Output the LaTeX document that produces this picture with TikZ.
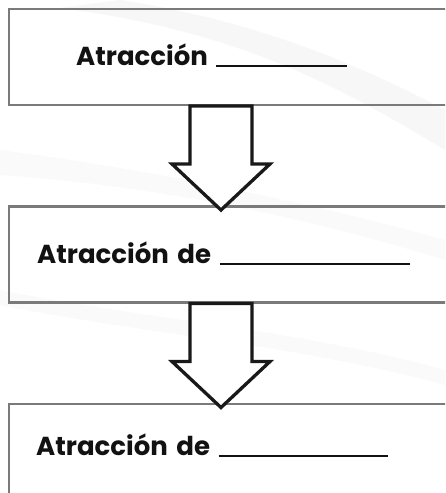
\documentclass[tikz,border=0pt]{standalone}
\usepackage{fontspec}
\setmainfont{Poppins}
\usetikzlibrary{positioning,calc}
\newcommand{\linea}[1]{\hspace{3pt}\rule[-2pt]{#1}{2.5pt}}
\begin{document}
\begin{tikzpicture}[x=1pt, y=-1pt, node distance=99pt,
    caja/.style={draw=black!52, line width=2.5pt, minimum width=455pt, minimum height=96pt, inner sep=0pt},
    texto/.style={font=\fontsize{26}{30}\selectfont\bfseries, text=black!93, inner sep=0pt, anchor=base west},
    flecha/.style={draw=black!90, fill=white, line width=3.3pt, line join=miter}]
  \fill[white] (0,0) rectangle (445,493);
  \clip (0,0) rectangle (445,493);
  \fill[black!3] (120,0) .. controls (250,20) and (350,60) .. (445,110) -- (445,150) .. controls (330,80) and (230,30) .. (60,8) -- cycle;
  \fill[black!2] (0,150) .. controls (150,170) and (300,200) .. (445,240) -- (445,260) .. controls (300,215) and (150,185) .. (0,175) -- cycle;
  \fill[black!2] (0,290) .. controls (150,320) and (300,330) .. (445,370) -- (445,385) .. controls (300,345) and (150,335) .. (0,305) -- cycle;
  \coordinate (eje) at (221,0);
  \node[caja, anchor=north west] (c1) at (7.5,7.5) {};
  \node[caja, below=of c1] (c2) {};
  \node[caja, below=of c2] (c3) {};
  \node[texto] (t1) at (76,65) {Atracción \linea{131pt}};
  \node[texto] (t2) at (37,263) {Atracción\hspace{3pt} de \linea{190pt}};
  \node[texto] (t3) at (36,455) {Atracción\hspace{3pt} de \linea{169pt}};
  \foreach \a/\b in {c1/c2, c2/c3}
    \draw[flecha] ($(\a.south -| eje)+(-31,0)$) -- ($(\b.north -| eje)+(-31,-41)$)
      -- ($(\b.north -| eje)+(-49,-41)$) -- ($(\b.north -| eje)+(0,5)$)
      -- ($(\b.north -| eje)+(49,-41)$) -- ($(\b.north -| eje)+(31,-41)$)
      -- ($(\a.south -| eje)+(31,0)$) -- cycle;
\end{tikzpicture}
\end{document}
